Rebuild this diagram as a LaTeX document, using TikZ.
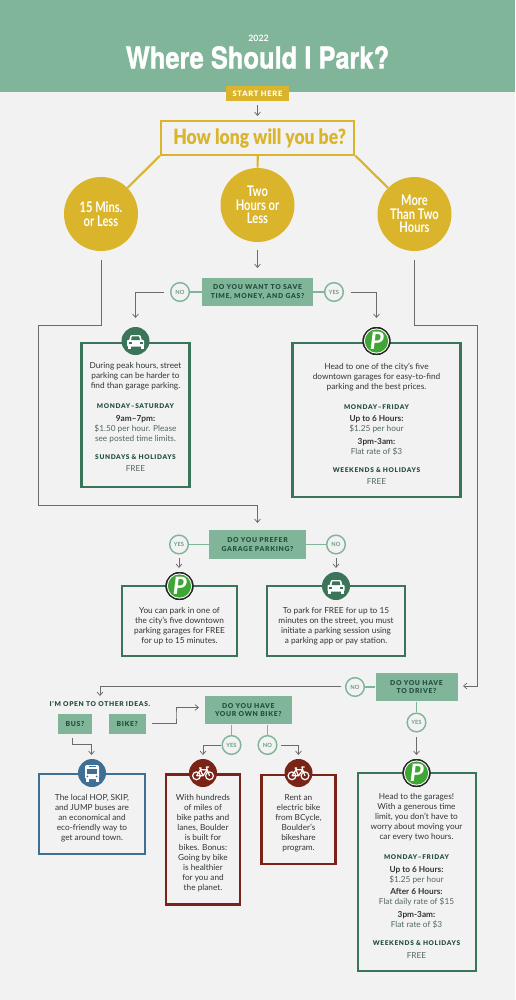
\documentclass[tikz,border=0pt]{standalone}
\usepackage{fontspec}
\setmainfont{Lato}
\newfontfamily\capsfont[LetterSpace=10]{Lato Black}
\newfontfamily\heavyfont{Lato Black}
\newfontfamily\titlefont[FakeBold=1.4]{TeX Gyre Heros}
\usetikzlibrary{arrows.meta}

\definecolor{paper}{HTML}{F3F2F3}
\definecolor{sage}{HTML}{80B59A}
\definecolor{mustard}{HTML}{DAB42A}
\definecolor{pine}{HTML}{3A7459}
\definecolor{pinetext}{HTML}{234F3D}
\definecolor{harbor}{HTML}{3E7095}
\definecolor{brick}{HTML}{7A2418}
\definecolor{signgreen}{HTML}{3FA535}
\definecolor{inktext}{HTML}{2F3533}
\definecolor{softtext}{HTML}{51685E}
\definecolor{flowgray}{HTML}{6B6B6B}

\newcommand{\narrowtxt}[1]{\scalebox{.76}[1]{#1}}
\newcommand{\dayline}[1]{{\fontsize{4.9}{7.5}\capsfont\color{pinetext}#1}}
\newcommand{\hourline}[1]{{\bfseries\color{inktext}#1}}
\newcommand{\rateline}[1]{{\color{softtext}#1}}

\tikzset{
  flow/.style={draw=flowgray, line width=0.55pt, line join=miter},
  flowtip/.style={flow, -{Straight Barb[length=2.6pt,width=4.4pt]}},
  stem/.style={draw=mustard, line width=1.6pt},
  answerline/.style={draw=sage, line width=1.1pt},
  question/.style={rectangle, fill=sage, inner sep=0pt, align=center, text=pinetext,
    font=\fontsize{5.1}{6.1}\capsfont},
  answer/.style={circle, draw=sage, fill=paper, line width=1.1pt, minimum size=14pt, inner sep=0pt,
    text=sage!85!black, font=\fontsize{4.3}{4.4}\selectfont\bfseries},
  choice/.style={circle, fill=mustard, minimum size=55.5pt, inner sep=0pt, align=center, text=white,
    font=\fontsize{11}{10.1}\selectfont\bfseries},
  infobox/.style={rectangle, draw=#1, line width=1.6pt, inner sep=0pt},
  bodytext/.style={anchor=north, inner sep=0pt, align=center, text=inktext,
    font=\fontsize{6.2}{7.5}\selectfont},
  iconbg/.style={circle, fill=#1, minimum size=21pt, inner sep=0pt},
  carpic/.pic={
    \fill[white, rounded corners=0.8pt] (-8.5,5.5) rectangle (8.5,-1.2);
    \fill[white, rounded corners=0.8pt] (-6.5,0) -- (-5,-6) -- (5,-6) -- (6.5,0) -- cycle;
    \fill[#1] (-4.4,-1) -- (-3.6,-4.6) -- (3.6,-4.6) -- (4.4,-1) -- cycle;
    \fill[white] (-8,5) rectangle (-5,7.5);
    \fill[white] (5,5) rectangle (8,7.5);
    \fill[#1] (-7,1) rectangle (-4,2.6);
    \fill[#1] (4,1) rectangle (7,2.6);
  },
  parkpic/.pic={
    \fill[black!85] (0,0) circle (14);
    \fill[white] (0,0) circle (12.6);
    \fill[signgreen] (0,0) circle (11.6);
    \node[text=white, inner sep=0pt, font=\fontsize{18}{18}\selectfont\bfseries\itshape] at (0.3,-0.3) {P};
  },
  buspic/.pic={
    \fill[white, rounded corners=1.5pt] (-7,-8) rectangle (7,6);
    \fill[white] (-6.5,5) rectangle (-3.5,8.5);
    \fill[white] (3.5,5) rectangle (6.5,8.5);
    \fill[#1] (-5.2,-4.2) rectangle (5.2,1);
    \fill[#1] (-3.5,-6.6) rectangle (3.5,-5.6);
    \fill[#1] (-4.6,3.4) circle (1);
    \fill[#1] (4.6,3.4) circle (1);
  },
  bikepic/.pic={
    \draw[white, line width=0.9pt] (-6.5,2.8) circle (3.9);
    \draw[white, line width=0.9pt] (6.5,2.8) circle (3.9);
    \draw[white, line width=0.9pt, line join=round] (-6.5,2.8) -- (-2.6,-3.2) -- (4.2,-3.2) -- (6.5,2.8)
      (-2.6,-3.2) -- (0,2.8) -- (4.2,-3.2) (0,2.8) -- (-6.5,2.8)
      (-4,-5) -- (-1.5,-5) (-2.6,-5) -- (-2.6,-3.2) (4.2,-3.2) -- (3.4,-6) -- (6,-6);
  },
}

\begin{document}
\begin{tikzpicture}[x=0.75pt, y=-0.75pt]
  \useasboundingbox (0,0) rectangle (515,1000);
  \fill[paper] (0,0) rectangle (515,1000);

  % header
  \fill[sage] (0,0) rectangle (515,92);
  \node[text=white, inner sep=0pt, font=\fontsize{6.6}{7}\selectfont\bfseries] (yearlabel) at (258.5,38) {2022};
  \node[text=white, inner sep=0pt, font=\fontsize{22.6}{24}\titlefont] (maintitle) at (257.5,57.5)
    {\resizebox{197.5pt}{\height}{\bfseries Where Should I Park?}};
  \node[fill=mustard, text=white, minimum width=47.5pt, minimum height=11.5pt, inner sep=0pt,
    font=\fontsize{5.6}{6}\capsfont] (starthere) at (257.5,93.5) {START HERE};

  % how long
  \node[rectangle, draw=mustard, line width=1.6pt, minimum width=145pt, minimum height=25pt, inner sep=0pt,
    text=mustard, font=\fontsize{15.8}{16}\heavyfont] (howlong) at (257.7,138)
    {\hspace{3pt}\resizebox{129.5pt}{\height}{How long will you be?}};
  \node[choice] (shortstay) at (101,214) {\narrowtxt{15 Mins.}\\\narrowtxt{or Less}};
  \node[choice] (midstay) at (257.5,205) {\narrowtxt{Two}\\\narrowtxt{Hours or}\\\narrowtxt{Less}};
  \node[choice] (longstay) at (414.5,214) {\narrowtxt{More}\\\narrowtxt{Than Two}\\\narrowtxt{Hours}};
  \draw[stem] (howlong.south west) -- (shortstay);
  \draw[stem] (howlong.south) -- (midstay);
  \draw[stem] (howlong.south east) -- (longstay);

  % first question
  \node[question, minimum width=83.5pt, minimum height=21pt] (saveq) at (257.5,292) {DO YOU WANT TO SAVE\\TIME, MONEY, AND GAS?};
  \node[answer] (saveno) at (180,292) {NO};
  \node[answer] (saveyes) at (334,292) {YES};
  \draw[answerline] (saveq) -- (saveno);
  \draw[answerline] (saveq) -- (saveyes);

  % second question
  \node[question, minimum width=73pt, minimum height=21.5pt] (garageq) at (257.5,544.5) {DO YOU PREFER\\GARAGE PARKING?};
  \node[answer] (garageyes) at (179,544.5) {YES};
  \node[answer] (garageno) at (336,544.5) {NO};
  \draw[answerline] (garageq) -- (garageyes);
  \draw[answerline] (garageq) -- (garageno);

  % third question
  \node[question, minimum width=61.5pt, minimum height=21.5pt] (driveq) at (416.5,687) {DO YOU HAVE\\TO DRIVE?};
  \node[answer] (driveno) at (355,687) {NO};
  \node[answer] (driveyes) at (416.5,722.5) {YES};
  \draw[answerline] (driveq) -- (driveno);
  \draw[answerline] (driveq) -- (driveyes);

  % other ideas
  \node[inner sep=0pt, text=pinetext, font=\fontsize{5}{6}\capsfont] (otherideas) at (100,704.5) {I'M OPEN TO OTHER IDEAS.};
  \node[question, minimum width=26pt, minimum height=15pt] (busq) at (75,724) {BUS?};
  \node[question, minimum width=28pt, minimum height=15pt] (bikeq) at (127.2,724) {BIKE?};
  \node[question, minimum width=65pt, minimum height=21pt] (ownbikeq) at (248.3,710.3) {DO YOU HAVE\\YOUR OWN BIKE?};
  \node[answer] (ownbikeyes) at (231.5,745) {YES};
  \node[answer] (ownbikeno) at (267.5,745) {NO};
  \draw[answerline] (ownbikeq.south -| ownbikeyes) -- (ownbikeyes);
  \draw[answerline] (ownbikeq.south -| ownbikeno) -- (ownbikeno);

  % connector ends
  \coordinate (starttip) at (257.5,105);
  \coordinate (startend) at (257.5,116);
  \coordinate (midout) at (257.5,250);
  \coordinate (midend) at (257.5,268);
  \coordinate (saveleft) at (164,292);
  \coordinate (saveleftend) at (135.5,318);
  \coordinate (saveright) at (351,292);
  \coordinate (saverightend) at (376.5,318);
  \coordinate (shortout) at (101,260);
  \coordinate (shortbend) at (38,325);
  \coordinate (shortlow) at (38,505);
  \coordinate (shortend) at (257.5,523);
  \coordinate (longout) at (414.5,260);
  \coordinate (longbend) at (477.5,325);
  \coordinate (longlow) at (477.5,686);
  \coordinate (longend) at (463,686);
  \coordinate (yesout) at (179,558);
  \coordinate (yesend) at (179,568);
  \coordinate (noout) at (336,558);
  \coordinate (noend) at (336,568);
  \coordinate (driveleft) at (341,686);
  \coordinate (driveleftend) at (100,696);
  \coordinate (driveout) at (416.5,737);
  \coordinate (driveend) at (416.5,755);
  \coordinate (bikeout) at (151.5,723);
  \coordinate (bikemid) at (176,715);
  \coordinate (bikeend) at (199,707.5);
  \coordinate (busout) at (72.5,738);
  \coordinate (busmid) at (82,744.5);
  \coordinate (busend) at (91.5,755);
  \coordinate (ownyesout) at (221,745);
  \coordinate (ownyesend) at (203,755);
  \coordinate (ownnoout) at (281,745);
  \coordinate (ownnoend) at (298.5,755);

  % connectors
  \draw[flowtip] (starttip) -- (startend);
  \draw[flowtip] (midout) -- (midend);
  \draw[flowtip] (saveleft) -| (saveleftend);
  \draw[flowtip] (saveright) -| (saverightend);
  \draw[flowtip] (shortout) |- (shortbend) -- (shortlow) -| (shortend);
  \draw[flowtip] (longout) |- (longbend) -- (longlow) -- (longend);
  \draw[flowtip] (yesout) -- (yesend);
  \draw[flowtip] (noout) -- (noend);
  \draw[flowtip] (driveleft) -| (driveleftend);
  \draw[flowtip] (driveout) -- (driveend);
  \draw[flowtip] (bikeout) -| (bikemid) |- (bikeend);
  \draw[flowtip] (busout) |- (busmid) -| (busend);
  \draw[flowtip] (ownyesout) -| (ownyesend);
  \draw[flowtip] (ownnoout) -| (ownnoend);

  % street box
  \node[infobox=pine, minimum width=81pt, minimum height=108pt] (streetbox) at (135.5,415) {};
  \node[iconbg=pine] (streeticon) at (135.5,341) {};
  \pic at (streeticon) {carpic=pine};
  \node[bodytext] (streettext) at (135.5,362.5) {During peak hours, street\\parking can be harder to\\find than garage parking.\\[7.5pt]
    \dayline{MONDAY–SATURDAY}\\[1.9pt]\hourline{9am–7pm:}\\\rateline{\$1.50 per hour. Please}\\\rateline{see posted time limits.}\\[6pt]
    \dayline{SUNDAYS \& HOLIDAYS}\\[1.9pt]\rateline{FREE}};

  % garage box
  \node[infobox=pine, minimum width=126pt, minimum height=116pt] (garagebox) at (376.5,420) {};
  \node[iconbg=black] (garageicon) at (376.5,341) {};
  \pic at (garageicon) {parkpic};
  \node[bodytext] (garagetext) at (376.5,362.5) {Head to one of the city's five\\downtown garages for easy-to-find\\parking and the best prices.\\[7.5pt]
    \dayline{MONDAY–FRIDAY}\\[1.9pt]\hourline{Up to 6 Hours:}\\\rateline{\$1.25 per hour}\\[1.9pt]\hourline{3pm-3am:}\\\rateline{Flat rate of \$3}\\[6pt]
    \dayline{WEEKENDS \& HOLIDAYS}\\[1.9pt]\rateline{FREE}};

  % free garage box
  \node[infobox=pine, minimum width=86pt, minimum height=52.5pt] (freegaragebox) at (179.5,621.3) {};
  \node[iconbg=black] (freegarageicon) at (179.5,586) {};
  \pic at (freegarageicon) {parkpic};
  \node[bodytext] (freegaragetext) at (179.5,607) {You can park in one of\\the city's five downtown\\parking garages for FREE\\for up to 15 minutes.};

  % free street box
  \node[infobox=pine, minimum width=103pt, minimum height=52.5pt] (freestreetbox) at (336,621.3) {};
  \node[iconbg=pine] (freestreeticon) at (336,586) {};
  \pic at (freestreeticon) {carpic=pine};
  \node[bodytext] (freestreettext) at (336,607) {To park for FREE for up to 15\\minutes on the street, you must\\initiate a parking session using\\a parking app or pay station.};

  % bus box
  \node[infobox=harbor, minimum width=80pt, minimum height=60pt] (busbox) at (92,814.3) {};
  \node[iconbg=harbor] (busicon) at (92,773) {};
  \pic at (busicon) {buspic=harbor};
  \node[bodytext] (bustext) at (92,794.5) {The local HOP, SKIP,\\and JUMP buses are\\an economical and\\eco-friendly way to\\get around town.};

  % own bike box
  \node[infobox=brick, minimum width=55.5pt, minimum height=97.5pt] (ownbikebox) at (203,839.5) {};
  \node[iconbg=brick] (ownbikeicon) at (203,773) {};
  \pic at (ownbikeicon) {bikepic};
  \node[bodytext] (ownbiketext) at (203,794.5) {With hundreds\\of miles of\\bike paths and\\lanes, Boulder\\is built for\\bikes. Bonus:\\Going by bike\\is healthier\\for you and\\the planet.};

  % rent bike box
  \node[infobox=brick, minimum width=55.5pt, minimum height=67pt] (rentbikebox) at (298.5,819.3) {};
  \node[iconbg=brick] (rentbikeicon) at (298.5,773) {};
  \pic at (rentbikeicon) {bikepic};
  \node[bodytext] (rentbiketext) at (298.5,794.5) {Rent an\\electric bike\\from BCycle,\\Boulder's\\bikeshare\\program.};

  % last box
  \node[infobox=pine, minimum width=88.5pt, minimum height=148.5pt] (drivebox) at (416.7,872) {};
  \node[iconbg=black] (driveicon) at (416.5,773) {};
  \pic at (driveicon) {parkpic};
  \node[bodytext] (drivetext) at (416.5,793.5) {Head to the garages!\\With a generous time\\limit, you don't have to\\worry about moving your\\car every two hours.\\[7.5pt]
    \dayline{MONDAY–FRIDAY}\\[1.9pt]\hourline{Up to 6 Hours:}\\\rateline{\$1.25 per hour}\\[1.9pt]\hourline{After 6 Hours:}\\\rateline{Flat daily rate of \$15}\\[1.9pt]\hourline{3pm-3am:}\\\rateline{Flat rate of \$3}\\[6pt]
    \dayline{WEEKENDS \& HOLIDAYS}\\[1.9pt]\rateline{FREE}};
\end{tikzpicture}
\end{document}
